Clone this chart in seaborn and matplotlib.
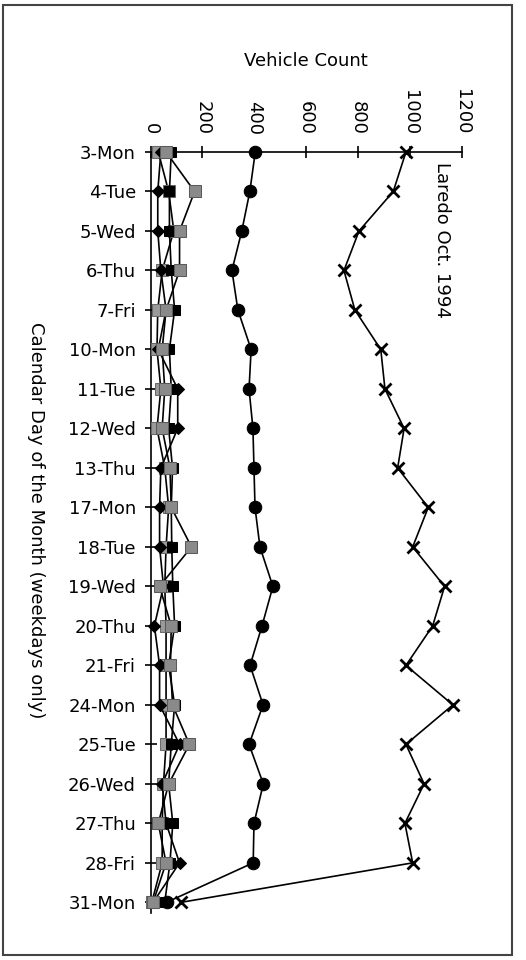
import matplotlib
matplotlib.use("Agg")
import matplotlib.pyplot as plt
import seaborn as sns
import numpy as np
import pandas as pd
from matplotlib.patches import Rectangle

# ---- data ----
days = ["3-Mon", "4-Tue", "5-Wed", "6-Thu", "7-Fri", "10-Mon", "11-Tue", "12-Wed",
        "13-Thu", "17-Mon", "18-Tue", "19-Wed", "20-Thu", "21-Fri", "24-Mon",
        "25-Tue", "26-Wed", "27-Thu", "28-Fri", "31-Mon"]
x_series = [985, 936, 804, 746, 788, 888, 904, 978, 953, 1071, 1011, 1134, 1088,
            985, 1166, 985, 1055, 981, 1011, 118]
circle_series = [404, 383, 352, 314, 337, 388, 380, 395, 399, 403, 422, 472, 430,
                 384, 434, 380, 435, 399, 396, 62]
black_square = [80, 73, 73, 80, 93, 73, 80, 70, 85, 80, 82, 86, 93, 70, 93, 80,
                70, 86, 75, 55]
diamond_series = [40, 28, 28, 40, 60, 30, 105, 105, 40, 35, 35, 50, 15, 35, 35,
                  112, 45, 60, 112, 10]
gray_square = [60, 170, 112, 112, 60, 45, 55, 45, 75, 80, 158, 35, 80, 77, 85,
               150, 70, 30, 60, 10]
gray_low = [30, 70, 90, 45, 28, 25, 40, 25, 55, 70, 60, 55, 60, 60, 60, 60, 50,
            45, 45, 5]
x_ticks = [0, 200, 400, 600, 800, 1000, 1200]

# ---- style ----
sns.set_theme(style="white")
plt.rcParams["font.family"] = ["DejaVu Sans"]
plt.rcParams["text.color"] = "black"
plt.rcParams["axes.labelcolor"] = "black"
plt.rcParams["xtick.color"] = "black"
plt.rcParams["ytick.color"] = "black"

W, H = 526, 960
fig = plt.figure(figsize=(W / 100, H / 100), dpi=100)
ax_left, ax_right = 150.5, 461.7
ax_top, ax_bottom = 152, 913
ax = fig.add_axes([ax_left / W, (H - ax_bottom) / H,
                   (ax_right - ax_left) / W, (ax_bottom - ax_top) / H])

idx = np.arange(len(days))

series = [
    (gray_low, dict(marker="s", markersize=8, markerfacecolor="#9a9a9a",
                    markeredgecolor="#6a6a6a", color="black")),
    (diamond_series, dict(marker="D", markersize=6, markerfacecolor="black",
                          markeredgecolor="black", color="black")),
    (black_square, dict(marker="s", markersize=7, markerfacecolor="black",
                        markeredgecolor="black", color="black")),
    (gray_square, dict(marker="s", markersize=9, markerfacecolor="#8a8a8a",
                       markeredgecolor="#5a5a5a", color="black")),
    (circle_series, dict(marker="o", markersize=9, markerfacecolor="black",
                         markeredgecolor="black", color="black")),
    (x_series, dict(marker="x", markersize=9, markeredgewidth=2,
                    markeredgecolor="black", color="black")),
]

for vals, kw in series:
    df = pd.DataFrame({"value": vals, "day": idx})
    sns.lineplot(data=df, x="value", y="day", orient="y", sort=False,
                 estimator=None, ax=ax, linewidth=1.2, clip_on=False,
                 zorder=3, **kw)

ax.set_xlim(0, 1200)
ax.set_ylim(19.27, 0)

# spines
for s in ["right", "bottom"]:
    ax.spines[s].set_visible(False)
for s in ["top", "left"]:
    ax.spines[s].set_visible(True)
    ax.spines[s].set_color("black")
    ax.spines[s].set_linewidth(1.2)

ax.xaxis.set_ticks_position("top")
ax.xaxis.set_label_position("top")
ax.set_xticks(x_ticks)
ax.set_xticklabels([str(t) for t in x_ticks], rotation=-90, fontsize=13)
ax.set_yticks(idx)
ax.set_yticklabels(days, fontsize=13)
ax.tick_params(axis="x", which="major", direction="inout", length=9, width=1.2,
               color="black", labelcolor="black", top=True, bottom=False,
               labeltop=True, labelbottom=False, pad=8)
ax.tick_params(axis="y", which="major", direction="inout", length=9, width=1.2,
               color="black", labelcolor="black", left=True, pad=6)

ax.set_xlabel("Vehicle Count", fontsize=13, color="black")
ax.xaxis.set_label_coords(0.5, 1.12)
ax.xaxis.label.set_va("center")
ax.set_ylabel("Calendar Day of the Month (weekdays only)", fontsize=13,
              rotation=-90, color="black")
ax.yaxis.set_label_coords(-0.368, 0.516)
ax.yaxis.label.set_va("center")
ax.yaxis.label.set_ha("center")

ax.text(0.937, 0.987, "Laredo Oct. 1994", transform=ax.transAxes,
        rotation=-90, ha="center", va="top", fontsize=13, color="black")

ax.grid(False)

# outer frame
fig.patches.append(Rectangle((3 / W, 5 / H), 509 / W, 950 / H,
                             transform=fig.transFigure, fill=False,
                             edgecolor="#444444", linewidth=1.5))

fig.savefig("out.png", dpi=100)
